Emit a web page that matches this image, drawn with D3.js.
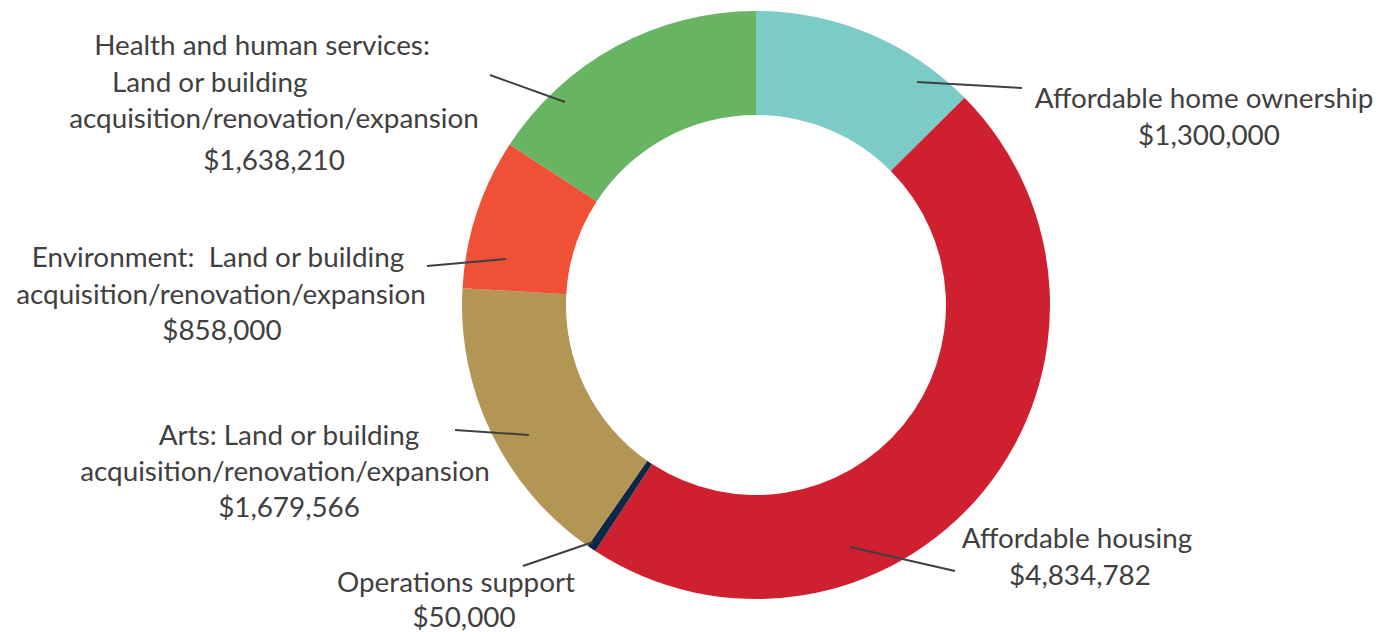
<!DOCTYPE html>
<html>
<head>
<meta charset="utf-8">
<script src="https://cdn.jsdelivr.net/npm/d3@7"></script>
<style>
  html, body { margin: 0; padding: 0; background: #ffffff; }
  svg { display: block; }
</style>
</head>
<body>
<svg id="chart" width="1390" height="632"></svg>
<script>
// ---- Data ----
const categories = [
  "Affordable home ownership",
  "Affordable housing",
  "Operations support",
  "Arts: Land or building acquisition/renovation/expansion",
  "Environment: Land or building acquisition/renovation/expansion",
  "Health and human services: Land or building acquisition/renovation/expansion"
];
const values = [1300000, 4834782, 50000, 1679566, 858000, 1638210];
const colors = ["#7BCBC7", "#CF2030", "#0C2849", "#B39656", "#F05136", "#67B462"];
const labelLines = [
  ["Affordable home ownership"],
  ["Affordable housing"],
  ["Operations support"],
  ["Arts: Land or building", "acquisition/renovation/expansion"],
  ["Environment:  Land or building", "acquisition/renovation/expansion"],
  ["Health and human services:", "Land or building", "acquisition/renovation/expansion"]
];

// ---- Layout (positions relative to donut centre) ----
const W = 1390, H = 632;
const cx = 756, cy = 305;
const outerR = 294, innerR = 190;
// per-label: x centres of each line, first baseline, line step, value line baseline & x
const labelLayout = [
  { xs: [448], y0: -197, step: 37, vx: 453, vy: -160 },
  { xs: [321], y0: 243, step: 37, vx: 324, vy: 280 },
  { xs: [-300], y0: 287, step: 37, vx: -292, vy: 322 },
  { xs: [-467, -471], y0: 140, step: 36, vx: -467, vy: 212 },
  { xs: [-538, -535], y0: -38, step: 37, vx: -534, vy: 35 },
  { xs: [-494, null, -482], y0: -250, step: 36.5, startX2: -644, vx: -482, vy: -135 }
];
const leaders = [
  [[266, -217], [161, -223]],
  [[199, 266], [94, 242]],
  [[-233, 261], [-163, 237]],
  [[-301, 125], [-227, 130]],
  [[-329, -39], [-250, -46]],
  [[-266, -230], [-191, -203]]
];

const textColor = "#404040";
const svg = d3.select("#chart");
const g = svg.append("g").attr("transform", `translate(${cx},${cy})`);

const pie = d3.pie().value(d => d).sort(null);
const arc = d3.arc().innerRadius(innerR).outerRadius(outerR);
const arcs = pie(values);

g.selectAll("path.slice")
  .data(arcs)
  .join("path")
  .attr("class", "slice")
  .attr("d", arc)
  .attr("fill", (d, i) => colors[i]);

// fit font size so the long line has the reference width (~412px)
const fontFamily = "Lato, 'Open Sans', sans-serif";
const probe = svg.append("text").attr("font-family", fontFamily).attr("font-size", 30)
  .text("acquisition/renovation/expansion");
const measured = probe.node().getComputedTextLength();
probe.remove();
const fontSize = 30 * 410 / measured;

const fmt = d3.format("$,");

// leader lines
g.selectAll("line.leader")
  .data(leaders)
  .join("line")
  .attr("class", "leader")
  .attr("x1", d => d[0][0]).attr("y1", d => d[0][1])
  .attr("x2", d => d[1][0]).attr("y2", d => d[1][1])
  .attr("stroke", textColor)
  .attr("stroke-width", 2);

// labels
arcs.forEach((a, i) => {
  const L = labelLayout[i];
  const t = g.append("g").attr("font-family", fontFamily).attr("font-size", fontSize)
    .attr("fill", textColor);
  labelLines[i].forEach((line, j) => {
    const el = t.append("text")
      .attr("y", L.y0 + j * L.step)
      .attr("xml:space", "preserve")
      .style("white-space", "pre")
      .text(line);
    if (L.xs[j] === null) {
      el.attr("x", L.startX2).attr("text-anchor", "start");
    } else {
      el.attr("x", L.xs[j]).attr("text-anchor", "middle");
    }
  });
  t.append("text")
    .attr("x", L.vx)
    .attr("y", L.vy)
    .attr("text-anchor", "middle")
    .text(fmt(values[i]));
});
</script>
</body>
</html>
